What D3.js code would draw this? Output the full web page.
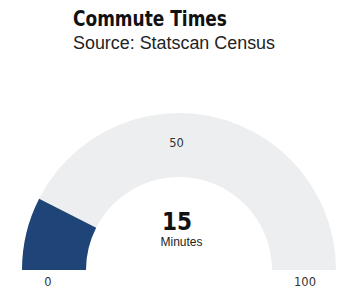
<!DOCTYPE html>
<html><head><meta charset="utf-8">
<script src="https://cdn.jsdelivr.net/npm/d3@7"></script>
<style>body{margin:0;background:#fff}</style>
</head><body>
<svg id="c" width="339" height="289"></svg>
<script>
const title = "Commute Times";
const subtitle = "Source: Statscan Census";
const gaugeMin = 0, gaugeMax = 100;
const value = 15;
const unitLabel = "Minutes";
const tickValues = [0, 50, 100];

const svg = d3.select("#c");
const cx = 179, cy = 270, R = 157, r = 93;
const angle = d3.scaleLinear().domain([gaugeMin, gaugeMax]).range([-Math.PI/2, Math.PI/2]);
const g = svg.append("g").attr("transform", `translate(${cx},${cy})`);
const arc = d3.arc().innerRadius(r).outerRadius(R);
g.append("path").attr("d", arc({startAngle: angle(gaugeMin), endAngle: angle(gaugeMax)})).attr("fill", "#eceeef");
g.append("path").attr("d", arc({startAngle: angle(gaugeMin), endAngle: angle(value)})).attr("fill", "#1f4477");

const lcx = -2.5, rl = 128.5;
g.selectAll("text.tick").data(tickValues).enter().append("text")
  .attr("class","tick")
  .attr("x", d => lcx + rl*Math.sin(angle(d)))
  .attr("y", d => -rl*Math.cos(angle(d)) + 5 + 11*Math.abs(Math.sin(angle(d))))
  .attr("text-anchor","middle")
  .attr("font-family","DejaVu Sans, sans-serif").attr("font-size", 11.5).attr("fill","#333")
  .text(d => d);

g.append("text").attr("x",-2).attr("y",-40).attr("text-anchor","middle")
  .attr("font-family","'DejaVu Sans Condensed',sans-serif").attr("font-weight","bold")
  .attr("font-size",25).attr("fill","#111")
  .attr("textLength",30).attr("lengthAdjust","spacingAndGlyphs").text(value);
g.append("text").attr("x",2.5).attr("y",-24).attr("text-anchor","middle")
  .attr("font-family","'Liberation Sans',Arial,sans-serif").attr("font-size",12).attr("fill","#222").text(unitLabel);

svg.append("text").attr("x",73).attr("y",26)
  .attr("font-family","'DejaVu Sans Condensed',sans-serif").attr("font-weight","bold")
  .attr("font-size",22).attr("fill","#111")
  .attr("textLength",154).attr("lengthAdjust","spacingAndGlyphs").text(title);
svg.append("text").attr("x",73).attr("y",49)
  .attr("font-family","'Liberation Sans',Arial,sans-serif").attr("font-size",17.5).attr("fill","#222")
  .attr("textLength",202).attr("lengthAdjust","spacingAndGlyphs").text(subtitle);
</script>
</body></html>
